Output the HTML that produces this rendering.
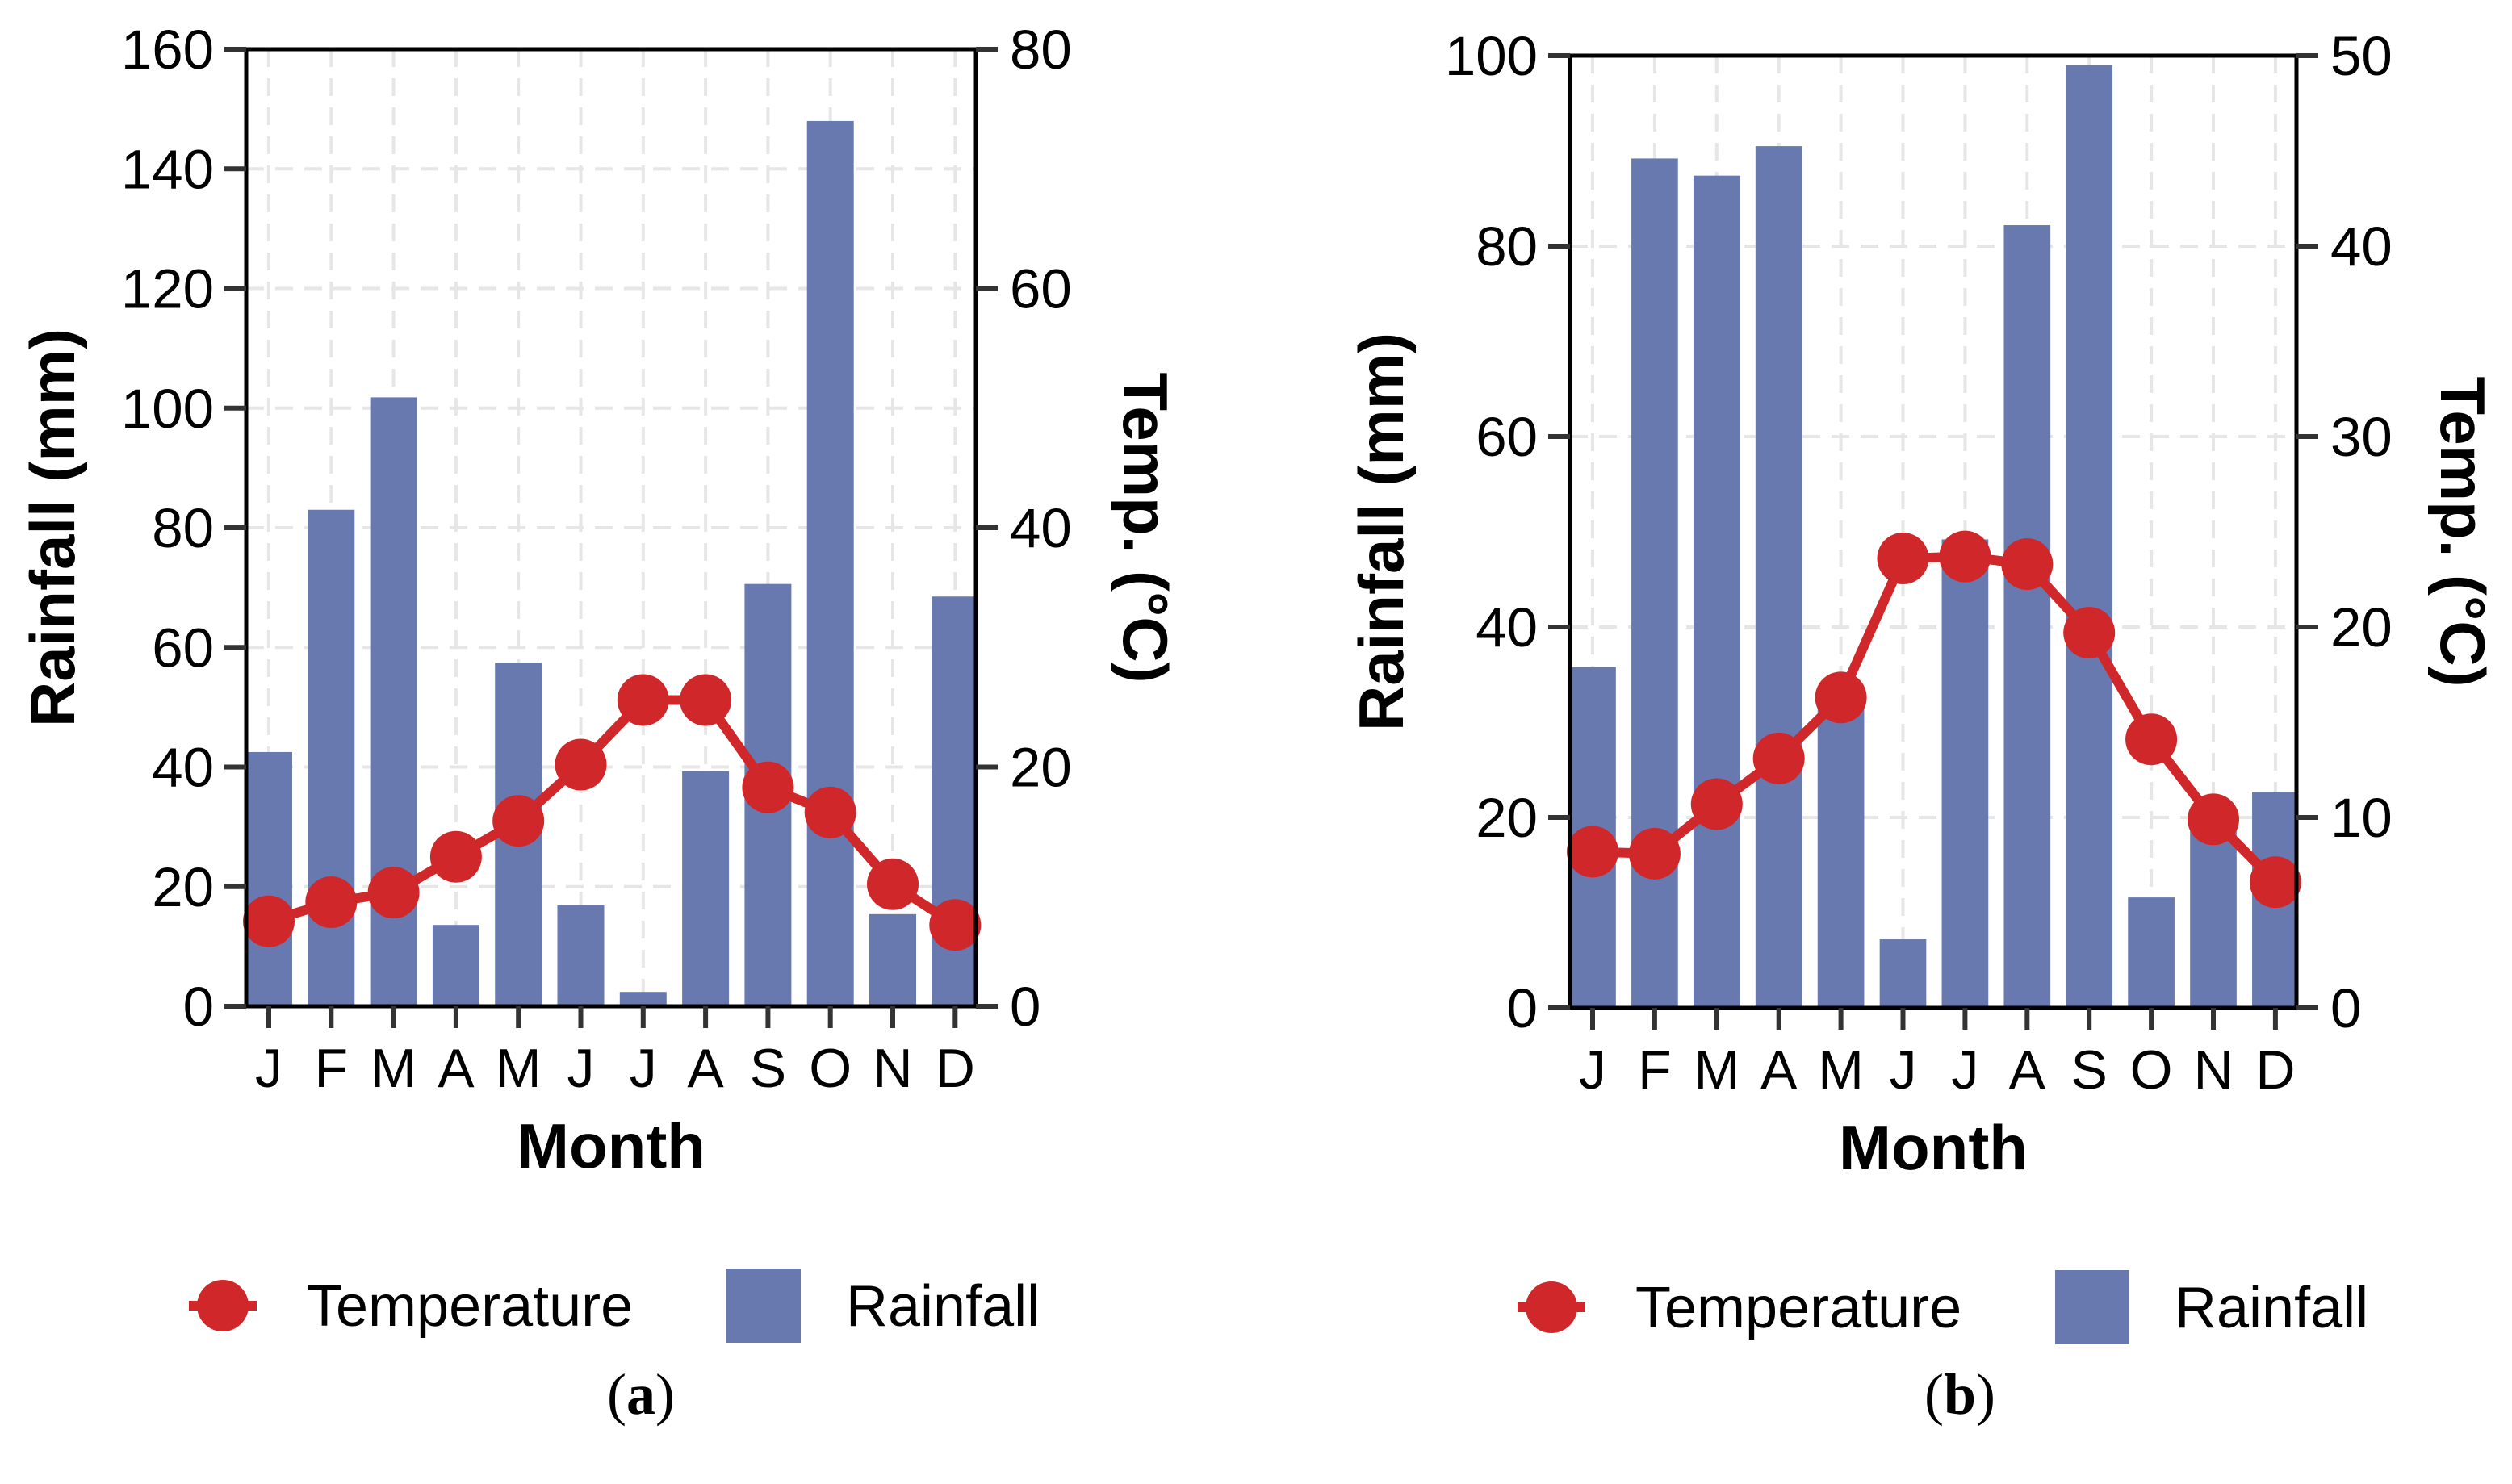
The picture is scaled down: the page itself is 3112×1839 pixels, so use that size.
<!DOCTYPE html>
<html><head><meta charset="utf-8">
<style>
html,body{margin:0;padding:0;background:#fff;}
svg{display:block;font-family:"Liberation Sans",Arial,sans-serif;}
</style></head>
<body>
<svg id="chart" width="3112" height="1839" viewBox="0 0 3112 1839" xmlns="http://www.w3.org/2000/svg"></svg>
<script>
const months = ["J","F","M","A","M","J","J","A","S","O","N","D"];
const rainA = [42.5,83.0,101.8,13.6,57.4,16.9,2.4,39.3,70.6,148,15.4,68.5];
const tempA = [7.1,8.7,9.5,12.5,15.5,20.2,25.6,25.6,18.3,16.2,10.2,6.8];
const rainTicksA = [0,20,40,60,80,100,120,140,160];
const tempTicksA = [0,20,40,60,80];
const rainB = [35.8,89.2,87.4,90.5,33,7.2,49.2,82.2,99,11.6,20.5,22.7];
const tempB = [8.2,8.1,10.7,13.1,16.3,23.6,23.7,23.3,19.7,14.1,9.9,6.6];
const rainTicksB = [0,20,40,60,80,100];
const tempTicksB = [0,10,20,30,40,50];

const NS="http://www.w3.org/2000/svg";
const svg=document.getElementById('chart');
function mk(tag,attrs,parent){const e=document.createElementNS(NS,tag);for(const k in attrs)e.setAttribute(k,attrs[k]);(parent||svg).appendChild(e);return e;}

function panel(cfg){
  const g=mk('g',{});
  
  
  const {L,R,T,B,J0,step}=cfg;
  const rMax=cfg.rainTicks[cfg.rainTicks.length-1], tMax=cfg.tempTicks[cfg.tempTicks.length-1];
  const xs=i=>J0+i*step;
  const yr=v=>B-(v/rMax)*(B-T);
  const yt=v=>B-(v/tMax)*(B-T);
  const clipId=cfg.id+'-clip';
  const cp=mk('clipPath',{id:clipId},g);mk('rect',{x:L,y:T,width:R-L,height:B-T},cp);
  const grid=mk('g',{stroke:'#e6e6e6','stroke-width':4,'stroke-dasharray':'22,14',fill:'none'},g);
  
  
  cfg.rainTicks.forEach(v=>mk('line',{x1:L,x2:R,y1:yr(v),y2:yr(v)},grid));
  months.forEach((m,i)=>mk('line',{x1:xs(i),x2:xs(i),y1:T,y2:B},grid));
  const bars=mk('g',{'clip-path':`url(#${clipId})`,fill:'#6779ae'},g);
  const bw=step*0.75;
  cfg.rain.forEach((v,i)=>{
    const r=mk('rect',{x:xs(i)-bw/2,y:yr(v),width:bw,height:B-yr(v)},bars);
    
    
  });
  const pts=cfg.temp.map((v,i)=>xs(i)+','+yt(v)).join(' ');
  const pl=mk('polyline',{points:pts,fill:'none',stroke:'#d0282a','stroke-width':12,'stroke-linejoin':'round'},g);
  
  
  cfg.temp.forEach((v,i)=>{
    const c=mk('circle',{cx:xs(i),cy:yt(v),r:32,fill:'#d0282a'},g);
    
    
  });
  mk('rect',{x:L,y:T,width:R-L,height:B-T,fill:'none',stroke:'#000','stroke-width':5},g);
  cfg.rainTicks.forEach(v=>{
    mk('line',{x1:L-27,x2:L,y1:yr(v),y2:yr(v),stroke:'#333','stroke-width':6},g);
    const t=mk('text',{x:L-40,y:yr(v)+24,'font-size':69,'text-anchor':'end',fill:'#000'},g);t.textContent=v;
    
  });
  cfg.tempTicks.forEach(v=>{
    mk('line',{x1:R,x2:R+27,y1:yt(v),y2:yt(v),stroke:'#333','stroke-width':6},g);
    const t=mk('text',{x:R+42,y:yt(v)+24,'font-size':69,fill:'#000'},g);t.textContent=v;
    
  });
  months.forEach((m,i)=>{
    mk('line',{x1:xs(i),x2:xs(i),y1:B,y2:B+27,stroke:'#333','stroke-width':6},g);
    const t=mk('text',{x:xs(i),y:B+100,'font-size':68,'text-anchor':'middle',fill:'#000'},g);t.textContent=m;
    
  });
  const mid=(T+B)/2;
  let t=mk('text',{x:(L+R)/2,y:B+200,'font-size':78,'font-weight':'bold','text-anchor':'middle'},g);t.textContent='Month';
  
  t=mk('text',{x:0,y:0,'font-size':78,'font-weight':'bold','text-anchor':'middle',transform:`translate(${cfg.ltx},${mid}) rotate(-90)`},g);t.textContent='Rainfall (mm)';
  
  t=mk('text',{x:0,y:0,'font-size':78,'font-weight':'bold','text-anchor':'middle',transform:`translate(${cfg.rtx},${mid}) rotate(90)`},g);t.textContent='Temp. (°C)';
  
  const lg=mk('g',{},g);
  
  const ly=cfg.ly;
  mk('line',{x1:cfg.lx-42,x2:cfg.lx+42,y1:ly,y2:ly,stroke:'#d0282a','stroke-width':12},lg);
  mk('circle',{cx:cfg.lx,cy:ly,r:32,fill:'#d0282a'},lg);
  t=mk('text',{x:cfg.lx+104,y:ly+25,'font-size':72},lg);t.textContent='Temperature';
  
  mk('rect',{x:cfg.lx+624,y:ly-46,width:92,height:92,fill:'#6779ae'},lg);
  t=mk('text',{x:cfg.lx+772,y:ly+25,'font-size':72},lg);t.textContent='Rainfall';
  
  t=mk('text',{x:cfg.cx,y:1752,'font-size':72,'text-anchor':'middle','font-family':'Liberation Serif, serif'},g);
  const s1=mk('tspan',{},t);s1.textContent='(';
  const s2=mk('tspan',{'font-weight':'bold'},t);s2.textContent=cfg.cap;
  const s3=mk('tspan',{},t);s3.textContent=')';
  
}
panel({id:'panel-a',L:305,R:1209,T:61,B:1247,J0:333,step:77.3,rain:rainA,temp:tempA,rainTicks:rainTicksA,tempTicks:tempTicksA,ltx:92,rtx:1392,lx:276,ly:1618,cx:794,cap:'a'});
panel({id:'panel-b',L:1945,R:2845,T:69,B:1249,J0:1973,step:76.9,rain:rainB,temp:tempB,rainTicks:rainTicksB,tempTicks:tempTicksB,ltx:1738,rtx:3024,lx:1922,ly:1620,cx:2428,cap:'b'});
</script>
</body></html>
